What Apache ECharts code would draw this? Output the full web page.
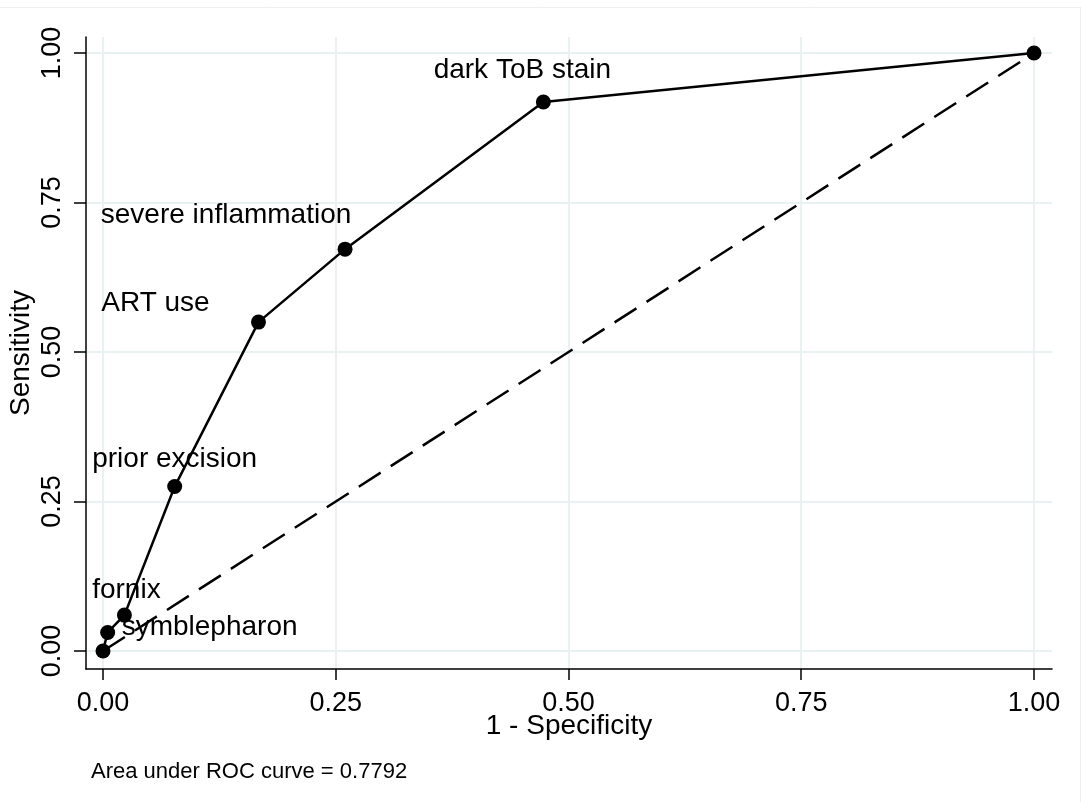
<!DOCTYPE html>
<html>
<head>
<meta charset="utf-8">
<script src="https://cdn.jsdelivr.net/npm/echarts@6/dist/echarts.min.js"></script>
<style>
  html, body { margin: 0; padding: 0; background: #fff; }
  #chart { width: 1081px; height: 802px; }
</style>
</head>
<body>
<div id="chart"></div>
<script>
// ROC points (1 - specificity, sensitivity)
const fpr = [0, 0.005, 0.023, 0.077, 0.167, 0.26, 0.473, 1];
const sens = [0, 0.031, 0.06, 0.275, 0.55, 0.672, 0.918, 1];
const pointNames = ["", "symblepharon", "fornix", "prior excision", "ART use", "severe inflammation", "dark ToB stain", ""];
const tickValues = [0, 0.25, 0.5, 0.75, 1];
const aucText = "Area under ROC curve = 0.7792";

// label placement relative to each marker (layout only)
const labelOffsets = [[0, 0], [14, -5], [2, -25], [0, -27], [-103, -19], [-119, -34], [-21, -32], [0, 0]];
const labelAligns = ["center", "left", "center", "center", "center", "center", "center", "center"];

const font = "'Liberation Sans', Arial, sans-serif";
const gridColor = "#e9f1f3";

const rocData = fpr.map((x, i) => ({
  name: pointNames[i],
  value: [x, sens[i]],
  label: {
    show: pointNames[i] !== "",
    offset: labelOffsets[i],
    align: labelAligns[i]
  }
}));

const chart = echarts.init(document.getElementById("chart"));
chart.setOption({
  backgroundColor: "#fff",
  animation: false,
  grid: { left: 86, right: 29, top: 37, bottom: 133, outerBoundsMode: "none", containLabel: false },
  xAxis: {
    type: "value",
    min: -0.01826,
    max: 1.01934,
    name: "1 - Specificity",
    nameLocation: "middle",
    nameGap: 43,
    nameMoveOverlap: false,
    nameTextStyle: { color: "#000", fontSize: 28, fontFamily: font },
    axisLine: { show: true, onZero: false, lineStyle: { color: "#000", width: 1.5 } },
    axisTick: { show: true, length: 11, customValues: tickValues, lineStyle: { color: "#000", width: 1.5 } },
    axisLabel: {
      customValues: tickValues,
      margin: 21,
      color: "#000",
      fontSize: 27,
      fontFamily: font,
      formatter: v => v.toFixed(2)
    },
    splitLine: { show: true, lineStyle: { color: gridColor, width: 2 } }
  },
  yAxis: {
    type: "value",
    min: -0.0301,
    max: 1.0268,
    name: "Sensitivity",
    nameLocation: "middle",
    nameRotate: 90,
    nameGap: 51,
    nameMoveOverlap: false,
    nameTextStyle: { color: "#000", fontSize: 28, fontFamily: font },
    axisLine: { show: true, onZero: false, lineStyle: { color: "#000", width: 1.5 } },
    axisTick: { show: true, length: 12, customValues: tickValues, lineStyle: { color: "#000", width: 1.5 } },
    axisLabel: {
      customValues: tickValues,
      rotate: 90,
      margin: 20,
      color: "#000",
      fontSize: 27,
      fontFamily: font,
      formatter: v => v.toFixed(2)
    },
    splitLine: { show: true, lineStyle: { color: gridColor, width: 2 } }
  },
  series: [
    {
      type: "line",
      data: [[0, 0], [1, 1]],
      symbol: "none",
      lineStyle: { color: "#000", width: 2.5, type: [26, 12] },
      z: 2
    },
    {
      type: "line",
      data: rocData,
      symbol: "circle",
      symbolSize: 15,
      itemStyle: { color: "#000" },
      lineStyle: { color: "#000", width: 2.5 },
      label: {
        position: "inside",
        formatter: "{b}",
        color: "#000",
        fontSize: 28,
        fontFamily: font
      },
      z: 3
    }
  ],
  graphic: [
    {
      type: "line",
      shape: { x1: 0, y1: 7.5, x2: 1081, y2: 7.5 },
      style: { stroke: "#eceff0", lineWidth: 1 }
    },
    {
      type: "line",
      shape: { x1: 1080.5, y1: 7, x2: 1080.5, y2: 802 },
      style: { stroke: "#eceff0", lineWidth: 1 }
    },
    {
      type: "text",
      left: 91,
      top: 761,
      style: { text: aucText, fill: "#000", fontSize: 22, fontFamily: font }
    }
  ]
});
</script>
</body>
</html>
